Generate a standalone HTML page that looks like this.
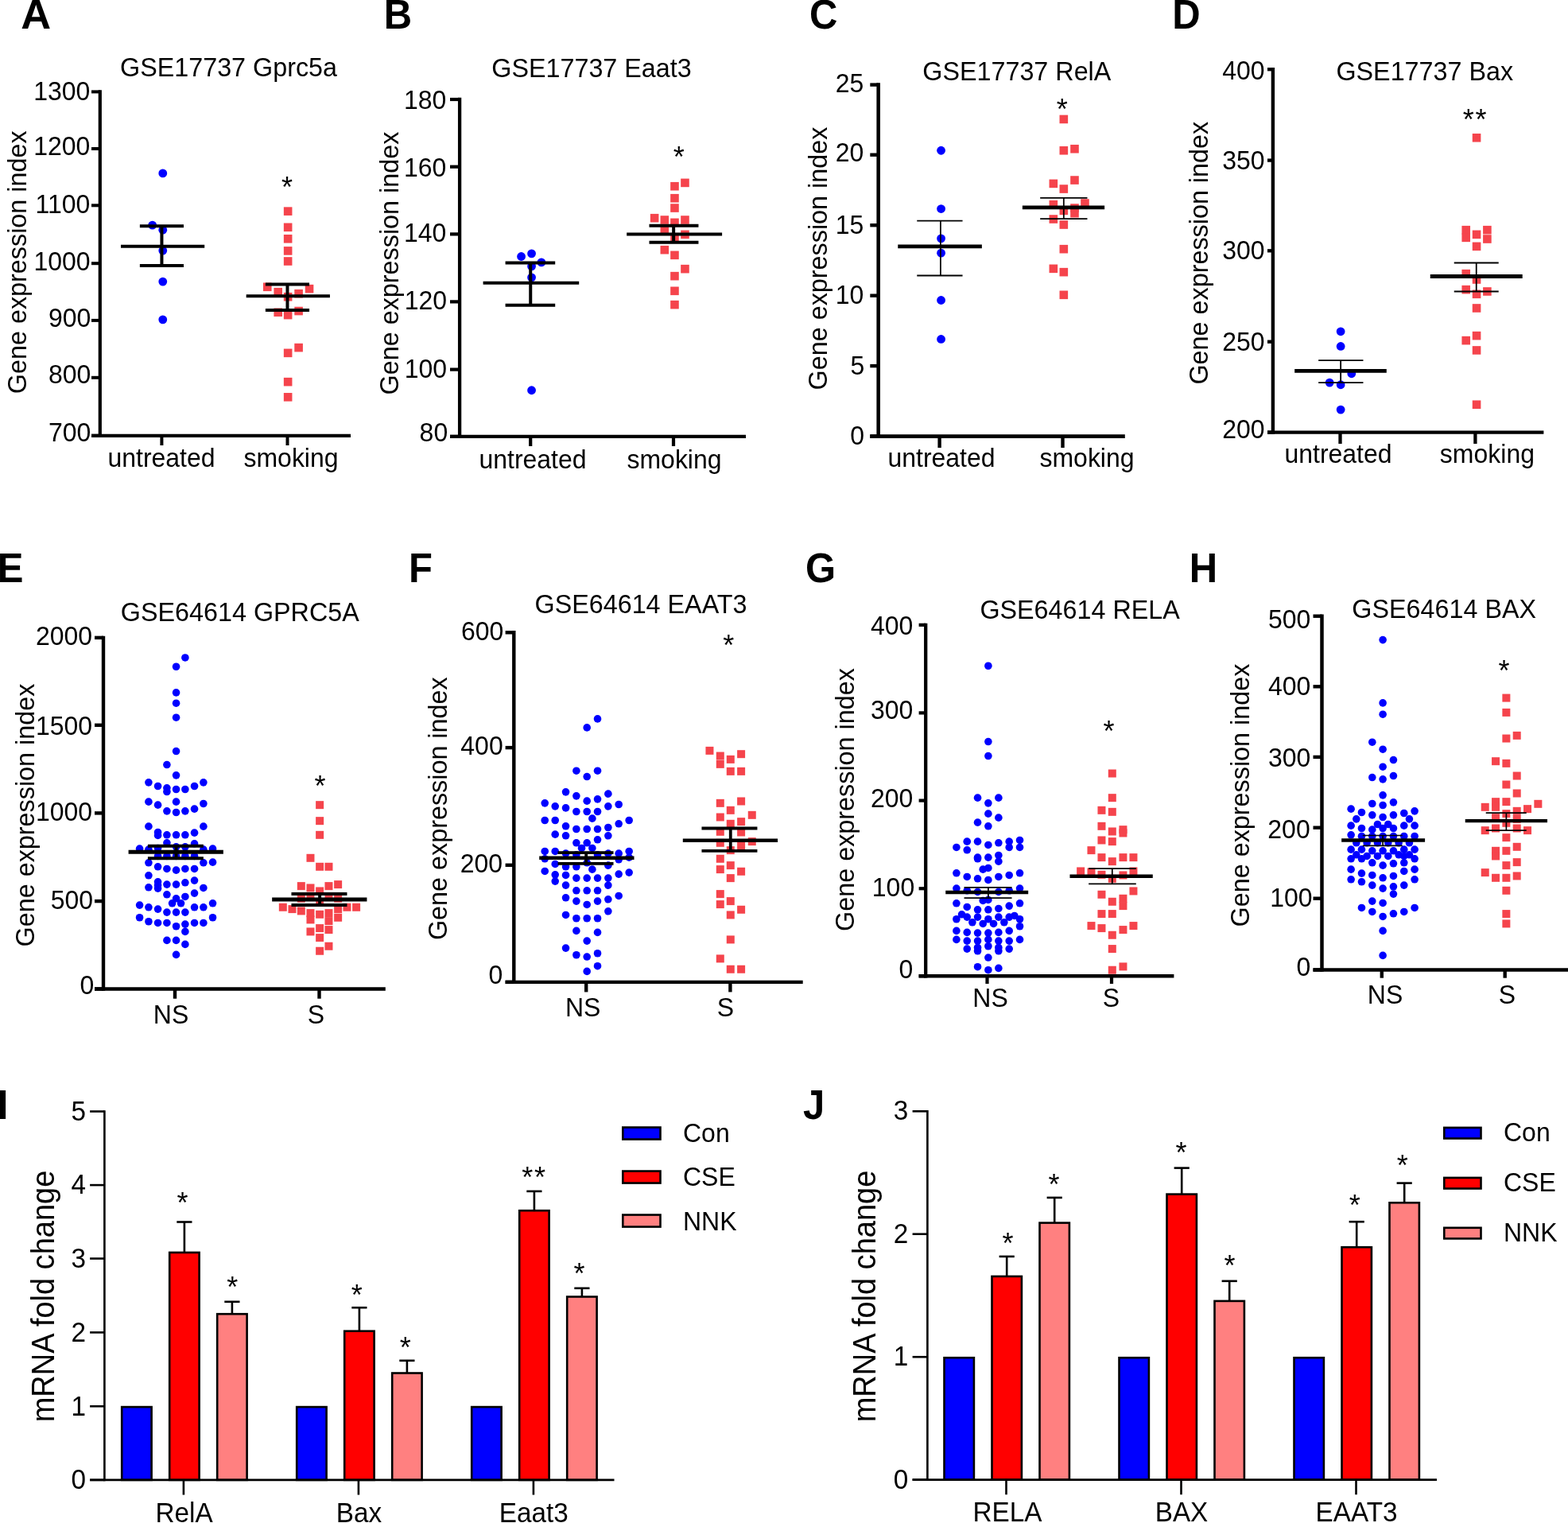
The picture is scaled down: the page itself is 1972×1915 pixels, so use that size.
<!DOCTYPE html>
<html lang="en"><head><meta charset="utf-8"><title>Gene expression figure</title>
<style>html,body{margin:0;padding:0;background:#fff}body{width:1972px;height:1915px;overflow:hidden}svg{display:block}text{font-family:"Liberation Sans",Arial,Helvetica,sans-serif;fill:#000}</style>
</head><body>
<svg xmlns="http://www.w3.org/2000/svg" width="1972" height="1915" viewBox="0 0 1972 1915">
<rect width="1972" height="1915" fill="#fff"/>
<g>
<text transform="translate(26.3 36.2) scale(1.07 1.05)" font-size="49" font-weight="700">A</text>
<text transform="translate(287.5 96.25) scale(1.01 1.055)" font-size="32" text-anchor="middle">GSE17737 Gprc5a</text>
<text transform="translate(33.1 329.8) rotate(-90) scale(1.011 1.055)" font-size="32" text-anchor="middle">Gene expression index</text>
<g fill="#0000ff">
<circle cx="204.77" cy="217.89" r="5.4"/>
<circle cx="191.66" cy="283.12" r="5.4"/>
<circle cx="204.77" cy="289.17" r="5.4"/>
<circle cx="204.77" cy="315.06" r="5.4"/>
<circle cx="204.77" cy="354.07" r="5.4"/>
<circle cx="204.77" cy="401.82" r="5.4"/>
</g>
<g fill="#f5444c">
<rect x="356.84" y="260.34" width="10.6" height="10.6"/>
<rect x="356.84" y="280.51" width="10.6" height="10.6"/>
<rect x="356.84" y="294.97" width="10.6" height="10.6"/>
<rect x="356.84" y="310.1" width="10.6" height="10.6"/>
<rect x="356.84" y="323.21" width="10.6" height="10.6"/>
<rect x="330.95" y="355.49" width="10.6" height="10.6"/>
<rect x="383.74" y="357.85" width="10.6" height="10.6"/>
<rect x="344.4" y="361.88" width="10.6" height="10.6"/>
<rect x="370.29" y="363.9" width="10.6" height="10.6"/>
<rect x="356.84" y="367.93" width="10.6" height="10.6"/>
<rect x="344.4" y="387.44" width="10.6" height="10.6"/>
<rect x="370.29" y="385.76" width="10.6" height="10.6"/>
<rect x="356.84" y="390.8" width="10.6" height="10.6"/>
<rect x="370.29" y="431.82" width="10.6" height="10.6"/>
<rect x="356.84" y="438.55" width="10.6" height="10.6"/>
<rect x="356.84" y="474.86" width="10.6" height="10.6"/>
<rect x="356.84" y="494.03" width="10.6" height="10.6"/>
</g>
<g stroke="#000" fill="none">
<line x1="151.98" y1="309.68" x2="257.23" y2="309.68" stroke-width="4"/>
<line x1="175.86" y1="284.13" x2="231" y2="284.13" stroke-width="4"/>
<line x1="175.86" y1="333.89" x2="231" y2="333.89" stroke-width="4"/>
<line x1="203.43" y1="284.13" x2="203.43" y2="333.89" stroke-width="4"/>
<line x1="309.68" y1="372.23" x2="414.93" y2="372.23" stroke-width="4"/>
<line x1="333.89" y1="357.43" x2="389.04" y2="357.43" stroke-width="4"/>
<line x1="333.89" y1="390.05" x2="389.04" y2="390.05" stroke-width="4"/>
<line x1="361.47" y1="357.43" x2="361.47" y2="390.05" stroke-width="4"/>
<line x1="125.8" y1="113.3" x2="125.8" y2="549.9" stroke-width="4.2"/>
<line x1="115" y1="547.8" x2="441" y2="547.8" stroke-width="4.2"/>
<line x1="115" y1="115.4" x2="125.8" y2="115.4" stroke-width="4"/>
<line x1="115" y1="187" x2="125.8" y2="187" stroke-width="4"/>
<line x1="115" y1="258.3" x2="125.8" y2="258.3" stroke-width="4"/>
<line x1="115" y1="331.2" x2="125.8" y2="331.2" stroke-width="4"/>
<line x1="115" y1="402.9" x2="125.8" y2="402.9" stroke-width="4"/>
<line x1="115" y1="474.8" x2="125.8" y2="474.8" stroke-width="4"/>
<line x1="115" y1="547.8" x2="125.8" y2="547.8" stroke-width="4"/>
<line x1="203.4" y1="547.8" x2="203.4" y2="560" stroke-width="4"/>
<line x1="361.5" y1="547.8" x2="361.5" y2="560" stroke-width="4"/>
</g>
<text transform="translate(113.3 126) scale(1 1.055)" font-size="32" text-anchor="end">1300</text>
<text transform="translate(113.3 195.2) scale(1 1.055)" font-size="32" text-anchor="end">1200</text>
<text transform="translate(113.3 267.8) scale(1 1.055)" font-size="32" text-anchor="end">1100</text>
<text transform="translate(113.6 340.3) scale(1 1.055)" font-size="32" text-anchor="end">1000</text>
<text transform="translate(114.3 411.1) scale(1 1.055)" font-size="32" text-anchor="end">900</text>
<text transform="translate(114.3 482.2) scale(1 1.055)" font-size="32" text-anchor="end">800</text>
<text transform="translate(114.3 554.9) scale(1 1.055)" font-size="32" text-anchor="end">700</text>
<text transform="translate(203 587) scale(1 1.055)" font-size="32" text-anchor="middle">untreated</text>
<text transform="translate(366 587) scale(1 1.055)" font-size="32" text-anchor="middle">smoking</text>
<text transform="translate(361.1 247.5)" font-size="36" text-anchor="middle">*</text>
</g>
<g>
<text transform="translate(482.7 36.2) scale(1 1.05)" font-size="49" font-weight="700">B</text>
<text transform="translate(744 97.2) scale(1.01 1.055)" font-size="32" text-anchor="middle">GSE17737 Eaat3</text>
<text transform="translate(500.5 331) rotate(-90) scale(1.011 1.055)" font-size="32" text-anchor="middle">Gene expression index</text>
<g fill="#0000ff">
<circle cx="655.57" cy="322.51" r="5.4"/>
<circle cx="668.56" cy="318.84" r="5.4"/>
<circle cx="680.89" cy="329.84" r="5.4"/>
<circle cx="668.56" cy="334.83" r="5.4"/>
<circle cx="668.56" cy="348.83" r="5.4"/>
<circle cx="668.56" cy="490.75" r="5.4"/>
</g>
<g fill="#f5444c">
<rect x="856.17" y="224.59" width="10.6" height="10.6"/>
<rect x="843.17" y="228.92" width="10.6" height="10.6"/>
<rect x="843.17" y="243.91" width="10.6" height="10.6"/>
<rect x="843.17" y="256.24" width="10.6" height="10.6"/>
<rect x="817.85" y="268.9" width="10.6" height="10.6"/>
<rect x="830.51" y="271.23" width="10.6" height="10.6"/>
<rect x="856.17" y="271.23" width="10.6" height="10.6"/>
<rect x="843.17" y="274.56" width="10.6" height="10.6"/>
<rect x="830.51" y="284.56" width="10.6" height="10.6"/>
<rect x="856.17" y="289.55" width="10.6" height="10.6"/>
<rect x="843.17" y="292.88" width="10.6" height="10.6"/>
<rect x="830.51" y="308.88" width="10.6" height="10.6"/>
<rect x="843.17" y="315.54" width="10.6" height="10.6"/>
<rect x="856.17" y="332.86" width="10.6" height="10.6"/>
<rect x="843.17" y="341.86" width="10.6" height="10.6"/>
<rect x="843.17" y="360.52" width="10.6" height="10.6"/>
<rect x="843.17" y="377.84" width="10.6" height="10.6"/>
</g>
<g stroke="#000" fill="none">
<line x1="607.59" y1="355.82" x2="728.2" y2="355.82" stroke-width="4"/>
<line x1="635.58" y1="330.5" x2="698.21" y2="330.5" stroke-width="4"/>
<line x1="635.58" y1="383.81" x2="698.21" y2="383.81" stroke-width="4"/>
<line x1="667.23" y1="330.5" x2="667.23" y2="383.81" stroke-width="4"/>
<line x1="788.17" y1="294.52" x2="908.11" y2="294.52" stroke-width="4"/>
<line x1="816.49" y1="283.86" x2="878.46" y2="283.86" stroke-width="4"/>
<line x1="816.49" y1="304.85" x2="878.46" y2="304.85" stroke-width="4"/>
<line x1="847.14" y1="283.86" x2="847.14" y2="304.85" stroke-width="4"/>
<line x1="578.1" y1="122.85" x2="578.1" y2="551.05" stroke-width="4.3"/>
<line x1="566" y1="548.9" x2="938" y2="548.9" stroke-width="4.3"/>
<line x1="566" y1="125" x2="578.1" y2="125" stroke-width="4.2"/>
<line x1="566" y1="209.7" x2="578.1" y2="209.7" stroke-width="4.2"/>
<line x1="566" y1="294.4" x2="578.1" y2="294.4" stroke-width="4.2"/>
<line x1="566" y1="379.4" x2="578.1" y2="379.4" stroke-width="4.2"/>
<line x1="566" y1="464.6" x2="578.1" y2="464.6" stroke-width="4.2"/>
<line x1="566" y1="548.9" x2="578.1" y2="548.9" stroke-width="4.2"/>
<line x1="667.2" y1="548.9" x2="667.2" y2="561" stroke-width="4.2"/>
<line x1="847" y1="548.9" x2="847" y2="561" stroke-width="4.2"/>
</g>
<text transform="translate(561.4 136.9) scale(1 1.055)" font-size="32" text-anchor="end">180</text>
<text transform="translate(561.4 222.05) scale(1 1.055)" font-size="32" text-anchor="end">160</text>
<text transform="translate(561.4 304.2) scale(1 1.055)" font-size="32" text-anchor="end">140</text>
<text transform="translate(562.05 388.8) scale(1 1.055)" font-size="32" text-anchor="end">120</text>
<text transform="translate(562.05 475.05) scale(1 1.055)" font-size="32" text-anchor="end">100</text>
<text transform="translate(563.2 555.4) scale(1 1.055)" font-size="32" text-anchor="end">80</text>
<text transform="translate(670 589) scale(1 1.055)" font-size="32" text-anchor="middle">untreated</text>
<text transform="translate(848 589) scale(1 1.055)" font-size="32" text-anchor="middle">smoking</text>
<text transform="translate(853.75 209.5)" font-size="36" text-anchor="middle">*</text>
</g>
<g>
<text transform="translate(1018 36.2) scale(1 1.05)" font-size="49" font-weight="700">C</text>
<text transform="translate(1278.8 101) scale(1.01 1.055)" font-size="32" text-anchor="middle">GSE17737 RelA</text>
<text transform="translate(1040 325) rotate(-90) scale(1.011 1.055)" font-size="32" text-anchor="middle">Gene expression index</text>
<g fill="#0000ff">
<circle cx="1183.56" cy="189.24" r="5.4"/>
<circle cx="1183.56" cy="262.54" r="5.4"/>
<circle cx="1183.56" cy="299.85" r="5.4"/>
<circle cx="1183.56" cy="318.17" r="5.4"/>
<circle cx="1183.56" cy="377.48" r="5.4"/>
<circle cx="1183.56" cy="426.45" r="5.4"/>
</g>
<g fill="#f5444c">
<rect x="1332.52" y="144.63" width="10.6" height="10.6"/>
<rect x="1332.52" y="183.94" width="10.6" height="10.6"/>
<rect x="1346.18" y="181.94" width="10.6" height="10.6"/>
<rect x="1346.18" y="221.25" width="10.6" height="10.6"/>
<rect x="1319.53" y="225.58" width="10.6" height="10.6"/>
<rect x="1332.52" y="232.25" width="10.6" height="10.6"/>
<rect x="1359.17" y="250.24" width="10.6" height="10.6"/>
<rect x="1319.53" y="251.9" width="10.6" height="10.6"/>
<rect x="1346.18" y="256.24" width="10.6" height="10.6"/>
<rect x="1332.52" y="259.57" width="10.6" height="10.6"/>
<rect x="1346.18" y="262.9" width="10.6" height="10.6"/>
<rect x="1319.53" y="270.23" width="10.6" height="10.6"/>
<rect x="1332.52" y="277.23" width="10.6" height="10.6"/>
<rect x="1332.52" y="307.88" width="10.6" height="10.6"/>
<rect x="1319.53" y="332.53" width="10.6" height="10.6"/>
<rect x="1332.52" y="336.86" width="10.6" height="10.6"/>
<rect x="1332.52" y="365.51" width="10.6" height="10.6"/>
</g>
<g stroke="#000" fill="none">
<line x1="1129.26" y1="309.85" x2="1234.87" y2="309.85" stroke-width="4.8"/>
<line x1="1153.25" y1="277.53" x2="1210.55" y2="277.53" stroke-width="1.8"/>
<line x1="1153.25" y1="346.49" x2="1210.55" y2="346.49" stroke-width="1.8"/>
<line x1="1182.9" y1="277.53" x2="1182.9" y2="346.49" stroke-width="1.8"/>
<line x1="1285.85" y1="260.87" x2="1389.13" y2="260.87" stroke-width="4.8"/>
<line x1="1308.17" y1="248.88" x2="1367.47" y2="248.88" stroke-width="1.8"/>
<line x1="1308.17" y1="275.2" x2="1367.47" y2="275.2" stroke-width="1.8"/>
<line x1="1337.82" y1="248.88" x2="1337.82" y2="275.2" stroke-width="1.8"/>
<line x1="1104.7" y1="104.3" x2="1104.7" y2="550.9" stroke-width="4.6"/>
<line x1="1094.3" y1="548.6" x2="1414.8" y2="548.6" stroke-width="4.6"/>
<line x1="1094.3" y1="106.6" x2="1104.7" y2="106.6" stroke-width="4.4"/>
<line x1="1094.3" y1="194.7" x2="1104.7" y2="194.7" stroke-width="4.4"/>
<line x1="1094.3" y1="283.2" x2="1104.7" y2="283.2" stroke-width="4.4"/>
<line x1="1094.3" y1="371.7" x2="1104.7" y2="371.7" stroke-width="4.4"/>
<line x1="1094.3" y1="460.1" x2="1104.7" y2="460.1" stroke-width="4.4"/>
<line x1="1094.3" y1="548.6" x2="1104.7" y2="548.6" stroke-width="4.4"/>
<line x1="1181.6" y1="548.6" x2="1181.6" y2="563" stroke-width="4.4"/>
<line x1="1336.5" y1="548.6" x2="1336.5" y2="563" stroke-width="4.4"/>
</g>
<text transform="translate(1086.4 116.05) scale(1 1.055)" font-size="32" text-anchor="end">25</text>
<text transform="translate(1086.4 202.9) scale(1 1.055)" font-size="32" text-anchor="end">20</text>
<text transform="translate(1086.4 293.8) scale(1 1.055)" font-size="32" text-anchor="end">15</text>
<text transform="translate(1086.4 382.05) scale(1 1.055)" font-size="32" text-anchor="end">10</text>
<text transform="translate(1087.3 471.05) scale(1 1.055)" font-size="32" text-anchor="end">5</text>
<text transform="translate(1087.05 559.2) scale(1 1.055)" font-size="32" text-anchor="end">0</text>
<text transform="translate(1184 587.4) scale(1 1.055)" font-size="32" text-anchor="middle">untreated</text>
<text transform="translate(1367 587.4) scale(1 1.055)" font-size="32" text-anchor="middle">smoking</text>
<text transform="translate(1335.75 149.7)" font-size="36" text-anchor="middle">*</text>
</g>
<g>
<text transform="translate(1474.3 36.2) scale(1 1.05)" font-size="49" font-weight="700">D</text>
<text transform="translate(1791.75 101) scale(1.01 1.055)" font-size="32" text-anchor="middle">GSE17737 Bax</text>
<text transform="translate(1519.2 318.2) rotate(-90) scale(1.011 1.055)" font-size="32" text-anchor="middle">Gene expression index</text>
<g fill="#0000ff">
<circle cx="1686.15" cy="416.79" r="5.4"/>
<circle cx="1686.15" cy="435.45" r="5.4"/>
<circle cx="1699.81" cy="469.77" r="5.4"/>
<circle cx="1672.16" cy="481.09" r="5.4"/>
<circle cx="1686.15" cy="483.76" r="5.4"/>
<circle cx="1686.15" cy="515.08" r="5.4"/>
</g>
<g fill="#f5444c">
<rect x="1851.76" y="167.95" width="10.6" height="10.6"/>
<rect x="1838.44" y="283.89" width="10.6" height="10.6"/>
<rect x="1865.09" y="283.89" width="10.6" height="10.6"/>
<rect x="1851.76" y="289.55" width="10.6" height="10.6"/>
<rect x="1838.44" y="293.55" width="10.6" height="10.6"/>
<rect x="1865.09" y="295.22" width="10.6" height="10.6"/>
<rect x="1851.76" y="304.55" width="10.6" height="10.6"/>
<rect x="1838.44" y="338.86" width="10.6" height="10.6"/>
<rect x="1851.76" y="346.19" width="10.6" height="10.6"/>
<rect x="1838.44" y="358.85" width="10.6" height="10.6"/>
<rect x="1865.09" y="361.18" width="10.6" height="10.6"/>
<rect x="1851.76" y="364.52" width="10.6" height="10.6"/>
<rect x="1851.76" y="382.17" width="10.6" height="10.6"/>
<rect x="1851.76" y="416.82" width="10.6" height="10.6"/>
<rect x="1838.44" y="422.82" width="10.6" height="10.6"/>
<rect x="1851.76" y="435.15" width="10.6" height="10.6"/>
<rect x="1851.76" y="503.45" width="10.6" height="10.6"/>
</g>
<g stroke="#000" fill="none">
<line x1="1628.18" y1="466.43" x2="1743.79" y2="466.43" stroke-width="4.8"/>
<line x1="1658.16" y1="453.11" x2="1714.47" y2="453.11" stroke-width="1.8"/>
<line x1="1658.16" y1="481.09" x2="1714.47" y2="481.09" stroke-width="1.8"/>
<line x1="1686.15" y1="453.11" x2="1686.15" y2="481.09" stroke-width="1.8"/>
<line x1="1798.76" y1="347.49" x2="1914.7" y2="347.49" stroke-width="4.8"/>
<line x1="1828.75" y1="330.5" x2="1884.72" y2="330.5" stroke-width="1.8"/>
<line x1="1828.75" y1="366.48" x2="1884.72" y2="366.48" stroke-width="1.8"/>
<line x1="1856.73" y1="330.5" x2="1856.73" y2="366.48" stroke-width="1.8"/>
<line x1="1600.9" y1="85" x2="1600.9" y2="545.8" stroke-width="4.4"/>
<line x1="1594" y1="543.6" x2="1941.4" y2="543.6" stroke-width="4.4"/>
<line x1="1594" y1="87.2" x2="1600.9" y2="87.2" stroke-width="4.3"/>
<line x1="1594" y1="201.6" x2="1600.9" y2="201.6" stroke-width="4.3"/>
<line x1="1594" y1="315.3" x2="1600.9" y2="315.3" stroke-width="4.3"/>
<line x1="1594" y1="429.7" x2="1600.9" y2="429.7" stroke-width="4.3"/>
<line x1="1594" y1="543.6" x2="1600.9" y2="543.6" stroke-width="4.3"/>
<line x1="1685.5" y1="543.6" x2="1685.5" y2="558" stroke-width="4.3"/>
<line x1="1855.4" y1="543.6" x2="1855.4" y2="558" stroke-width="4.3"/>
</g>
<text transform="translate(1590.55 99.8) scale(1 1.055)" font-size="32" text-anchor="end">400</text>
<text transform="translate(1590.55 212.9) scale(1 1.055)" font-size="32" text-anchor="end">350</text>
<text transform="translate(1590.55 326.4) scale(1 1.055)" font-size="32" text-anchor="end">300</text>
<text transform="translate(1590.55 441.05) scale(1 1.055)" font-size="32" text-anchor="end">250</text>
<text transform="translate(1590.55 551.05) scale(1 1.055)" font-size="32" text-anchor="end">200</text>
<text transform="translate(1683 582.4) scale(1 1.055)" font-size="32" text-anchor="middle">untreated</text>
<text transform="translate(1870.4 582.4) scale(1 1.055)" font-size="32" text-anchor="middle">smoking</text>
<text transform="translate(1855.5 162.8)" font-size="36" text-anchor="middle" letter-spacing="1.8">**</text>
</g>
<g>
<text transform="translate(-3.2 732) scale(1 1.05)" font-size="49" font-weight="700">E</text>
<text transform="translate(301.8 781) scale(1.01 1.055)" font-size="32" text-anchor="middle">GSE64614 GPRC5A</text>
<text transform="translate(43.4 1025) rotate(-90) scale(1.011 1.055)" font-size="32" text-anchor="middle">Gene expression index</text>
<g fill="#0000ff">
<circle cx="232.88" cy="826.93" r="4.8"/>
<circle cx="221.56" cy="838.25" r="4.8"/>
<circle cx="221.56" cy="870.9" r="4.8"/>
<circle cx="221.56" cy="884.23" r="4.8"/>
<circle cx="221.56" cy="902.22" r="4.8"/>
<circle cx="221.56" cy="944.53" r="4.8"/>
<circle cx="209.9" cy="961.53" r="4.8"/>
<circle cx="221.56" cy="974.85" r="4.8"/>
<circle cx="186.91" cy="983.85" r="4.8"/>
<circle cx="255.87" cy="983.85" r="4.8"/>
<circle cx="198.57" cy="988.51" r="4.8"/>
<circle cx="244.54" cy="988.51" r="4.8"/>
<circle cx="209.9" cy="990.84" r="4.8"/>
<circle cx="209.9" cy="995.51" r="4.8"/>
<circle cx="221.56" cy="992.51" r="4.8"/>
<circle cx="232.88" cy="992.51" r="4.8"/>
<circle cx="186.91" cy="1008.17" r="4.8"/>
<circle cx="221.56" cy="1008.17" r="4.8"/>
<circle cx="255.87" cy="1010.5" r="4.8"/>
<circle cx="198.57" cy="1012.17" r="4.8"/>
<circle cx="244.54" cy="1017.16" r="4.8"/>
<circle cx="209.9" cy="1019.83" r="4.8"/>
<circle cx="232.88" cy="1019.83" r="4.8"/>
<circle cx="221.56" cy="1021.5" r="4.8"/>
<circle cx="186.91" cy="1039.15" r="4.8"/>
<circle cx="255.87" cy="1039.15" r="4.8"/>
<circle cx="198.57" cy="1046.48" r="4.8"/>
<circle cx="244.54" cy="1047.15" r="4.8"/>
<circle cx="198.57" cy="1050.48" r="4.8"/>
<circle cx="209.9" cy="1049.82" r="4.8"/>
<circle cx="221.56" cy="1049.82" r="4.8"/>
<circle cx="232.88" cy="1049.82" r="4.8"/>
<circle cx="209.9" cy="1059.81" r="4.8"/>
<circle cx="244.54" cy="1060.81" r="4.8"/>
<circle cx="175.58" cy="1067.14" r="4.8"/>
<circle cx="267.53" cy="1067.14" r="4.8"/>
<circle cx="186.91" cy="1068.14" r="4.8"/>
<circle cx="198.57" cy="1066.47" r="4.8"/>
<circle cx="221.56" cy="1064.81" r="4.8"/>
<circle cx="232.88" cy="1064.81" r="4.8"/>
<circle cx="255.87" cy="1068.14" r="4.8"/>
<circle cx="198.57" cy="1076.47" r="4.8"/>
<circle cx="209.9" cy="1076.47" r="4.8"/>
<circle cx="232.88" cy="1076.47" r="4.8"/>
<circle cx="244.54" cy="1076.47" r="4.8"/>
<circle cx="221.56" cy="1076.47" r="4.8"/>
<circle cx="186.91" cy="1084.8" r="4.8"/>
<circle cx="255.87" cy="1084.8" r="4.8"/>
<circle cx="267.53" cy="1084.13" r="4.8"/>
<circle cx="198.57" cy="1089.8" r="4.8"/>
<circle cx="209.9" cy="1092.46" r="4.8"/>
<circle cx="221.56" cy="1094.13" r="4.8"/>
<circle cx="232.88" cy="1092.46" r="4.8"/>
<circle cx="244.54" cy="1092.46" r="4.8"/>
<circle cx="186.91" cy="1100.79" r="4.8"/>
<circle cx="198.57" cy="1108.79" r="4.8"/>
<circle cx="244.54" cy="1107.12" r="4.8"/>
<circle cx="232.88" cy="1109.79" r="4.8"/>
<circle cx="209.9" cy="1112.12" r="4.8"/>
<circle cx="221.56" cy="1112.12" r="4.8"/>
<circle cx="198.57" cy="1113.12" r="4.8"/>
<circle cx="186.91" cy="1115.78" r="4.8"/>
<circle cx="255.87" cy="1116.45" r="4.8"/>
<circle cx="198.57" cy="1117.11" r="4.8"/>
<circle cx="209.9" cy="1124.78" r="4.8"/>
<circle cx="244.54" cy="1123.11" r="4.8"/>
<circle cx="232.88" cy="1127.44" r="4.8"/>
<circle cx="221.56" cy="1129.78" r="4.8"/>
<circle cx="216.56" cy="1135.77" r="4.8"/>
<circle cx="227.55" cy="1135.77" r="4.8"/>
<circle cx="175.58" cy="1138.1" r="4.8"/>
<circle cx="267.53" cy="1135.77" r="4.8"/>
<circle cx="186.91" cy="1140.77" r="4.8"/>
<circle cx="198.57" cy="1143.1" r="4.8"/>
<circle cx="244.54" cy="1140.77" r="4.8"/>
<circle cx="255.87" cy="1140.77" r="4.8"/>
<circle cx="209.9" cy="1147.1" r="4.8"/>
<circle cx="221.56" cy="1147.1" r="4.8"/>
<circle cx="232.88" cy="1147.1" r="4.8"/>
<circle cx="175.58" cy="1153.76" r="4.8"/>
<circle cx="267.53" cy="1153.76" r="4.8"/>
<circle cx="186.91" cy="1158.76" r="4.8"/>
<circle cx="198.57" cy="1160.43" r="4.8"/>
<circle cx="209.9" cy="1160.43" r="4.8"/>
<circle cx="244.54" cy="1160.43" r="4.8"/>
<circle cx="255.87" cy="1160.43" r="4.8"/>
<circle cx="232.88" cy="1162.09" r="4.8"/>
<circle cx="221.56" cy="1164.76" r="4.8"/>
<circle cx="232.88" cy="1171.42" r="4.8"/>
<circle cx="209.9" cy="1182.42" r="4.8"/>
<circle cx="221.56" cy="1182.42" r="4.8"/>
<circle cx="232.88" cy="1187.41" r="4.8"/>
<circle cx="221.56" cy="1200.41" r="4.8"/>
</g>
<g fill="#f5444c">
<rect x="397.13" y="1007.17" width="10" height="10"/>
<rect x="397.13" y="1027.16" width="10" height="10"/>
<rect x="397.13" y="1044.82" width="10" height="10"/>
<rect x="385.47" y="1073.8" width="10" height="10"/>
<rect x="397.13" y="1084.8" width="10" height="10"/>
<rect x="408.46" y="1084.8" width="10" height="10"/>
<rect x="420.12" y="1107.12" width="10" height="10"/>
<rect x="373.81" y="1109.12" width="10" height="10"/>
<rect x="408.46" y="1109.12" width="10" height="10"/>
<rect x="385.47" y="1111.45" width="10" height="10"/>
<rect x="397.13" y="1115.45" width="10" height="10"/>
<rect x="373.81" y="1124.78" width="10" height="10"/>
<rect x="420.12" y="1124.78" width="10" height="10"/>
<rect x="385.47" y="1123.11" width="10" height="10"/>
<rect x="408.46" y="1123.11" width="10" height="10"/>
<rect x="397.13" y="1129.77" width="10" height="10"/>
<rect x="350.82" y="1135.77" width="10" height="10"/>
<rect x="362.48" y="1138.1" width="10" height="10"/>
<rect x="431.45" y="1135.77" width="10" height="10"/>
<rect x="443.11" y="1135.77" width="10" height="10"/>
<rect x="373.81" y="1140.43" width="10" height="10"/>
<rect x="420.12" y="1138.1" width="10" height="10"/>
<rect x="385.47" y="1143.1" width="10" height="10"/>
<rect x="408.46" y="1143.1" width="10" height="10"/>
<rect x="397.13" y="1144.77" width="10" height="10"/>
<rect x="420.12" y="1148.76" width="10" height="10"/>
<rect x="385.47" y="1151.43" width="10" height="10"/>
<rect x="408.46" y="1153.09" width="10" height="10"/>
<rect x="397.13" y="1162.09" width="10" height="10"/>
<rect x="408.46" y="1164.09" width="10" height="10"/>
<rect x="385.47" y="1166.42" width="10" height="10"/>
<rect x="397.13" y="1174.08" width="10" height="10"/>
<rect x="408.46" y="1184.75" width="10" height="10"/>
<rect x="397.13" y="1190.74" width="10" height="10"/>
</g>
<g stroke="#000" fill="none">
<line x1="161.59" y1="1071.14" x2="280.86" y2="1071.14" stroke-width="5"/>
<line x1="185.91" y1="1063.81" x2="255.87" y2="1063.81" stroke-width="4"/>
<line x1="185.91" y1="1079.13" x2="255.87" y2="1079.13" stroke-width="4"/>
<line x1="221.56" y1="1063.81" x2="221.56" y2="1079.13" stroke-width="4"/>
<line x1="342.16" y1="1131.11" x2="461.44" y2="1131.11" stroke-width="5"/>
<line x1="366.48" y1="1124.11" x2="436.45" y2="1124.11" stroke-width="4"/>
<line x1="366.48" y1="1138.1" x2="436.45" y2="1138.1" stroke-width="4"/>
<line x1="402.13" y1="1124.11" x2="402.13" y2="1138.1" stroke-width="4"/>
<line x1="130" y1="799.65" x2="130" y2="1245.7" stroke-width="4.4"/>
<line x1="119" y1="1243.5" x2="484.8" y2="1243.5" stroke-width="4.4"/>
<line x1="119" y1="801.85" x2="130" y2="801.85" stroke-width="4.4"/>
<line x1="119" y1="911.8" x2="130" y2="911.8" stroke-width="4.4"/>
<line x1="119" y1="1022.4" x2="130" y2="1022.4" stroke-width="4.4"/>
<line x1="119" y1="1133.1" x2="130" y2="1133.1" stroke-width="4.4"/>
<line x1="119" y1="1243.5" x2="130" y2="1243.5" stroke-width="4.4"/>
<line x1="220" y1="1243.5" x2="220" y2="1255.7" stroke-width="4.4"/>
<line x1="401.5" y1="1243.5" x2="401.5" y2="1255.7" stroke-width="4.4"/>
</g>
<text transform="translate(116.1 811) scale(1 1.055)" font-size="32" text-anchor="end">2000</text>
<text transform="translate(116.1 924.2) scale(1 1.055)" font-size="32" text-anchor="end">1500</text>
<text transform="translate(116.1 1032.3) scale(1 1.055)" font-size="32" text-anchor="end">1000</text>
<text transform="translate(117.05 1142.9) scale(1 1.055)" font-size="32" text-anchor="end">500</text>
<text transform="translate(118.3 1250.4) scale(1 1.055)" font-size="32" text-anchor="end">0</text>
<text transform="translate(215 1286.9) scale(1 1.055)" font-size="32" text-anchor="middle">NS</text>
<text transform="translate(397.5 1286.9) scale(1 1.055)" font-size="32" text-anchor="middle">S</text>
<text transform="translate(402.6 1000.5)" font-size="36" text-anchor="middle">*</text>
</g>
<g>
<text transform="translate(514 732) scale(1 1.05)" font-size="49" font-weight="700">F</text>
<text transform="translate(806 771) scale(1.01 1.055)" font-size="32" text-anchor="middle">GSE64614 EAAT3</text>
<text transform="translate(562 1016.7) rotate(-90) scale(1.011 1.055)" font-size="32" text-anchor="middle">Gene expression index</text>
<g fill="#0000ff">
<circle cx="751.52" cy="903.89" r="4.8"/>
<circle cx="738.19" cy="914.88" r="4.8"/>
<circle cx="724.87" cy="969.19" r="4.8"/>
<circle cx="751.52" cy="969.19" r="4.8"/>
<circle cx="738.19" cy="976.52" r="4.8"/>
<circle cx="711.54" cy="995.84" r="4.8"/>
<circle cx="764.85" cy="998.17" r="4.8"/>
<circle cx="724.87" cy="1000.84" r="4.8"/>
<circle cx="751.52" cy="1004.84" r="4.8"/>
<circle cx="738.19" cy="1007.17" r="4.8"/>
<circle cx="685.22" cy="1009.84" r="4.8"/>
<circle cx="778.17" cy="1011.5" r="4.8"/>
<circle cx="698.21" cy="1013.83" r="4.8"/>
<circle cx="764.85" cy="1013.83" r="4.8"/>
<circle cx="711.54" cy="1015.83" r="4.8"/>
<circle cx="724.87" cy="1020.5" r="4.8"/>
<circle cx="751.52" cy="1020.5" r="4.8"/>
<circle cx="738.19" cy="1020.5" r="4.8"/>
<circle cx="744.86" cy="1029.16" r="4.8"/>
<circle cx="685.22" cy="1031.49" r="4.8"/>
<circle cx="698.21" cy="1031.49" r="4.8"/>
<circle cx="791.17" cy="1031.49" r="4.8"/>
<circle cx="778.17" cy="1035.82" r="4.8"/>
<circle cx="711.54" cy="1038.82" r="4.8"/>
<circle cx="764.85" cy="1040.49" r="4.8"/>
<circle cx="724.87" cy="1042.49" r="4.8"/>
<circle cx="738.19" cy="1042.49" r="4.8"/>
<circle cx="751.52" cy="1042.49" r="4.8"/>
<circle cx="698.21" cy="1049.15" r="4.8"/>
<circle cx="711.54" cy="1050.81" r="4.8"/>
<circle cx="764.85" cy="1050.81" r="4.8"/>
<circle cx="751.52" cy="1055.81" r="4.8"/>
<circle cx="724.87" cy="1059.81" r="4.8"/>
<circle cx="738.19" cy="1059.81" r="4.8"/>
<circle cx="744.86" cy="1066.47" r="4.8"/>
<circle cx="731.53" cy="1066.47" r="4.8"/>
<circle cx="685.22" cy="1070.47" r="4.8"/>
<circle cx="698.21" cy="1070.47" r="4.8"/>
<circle cx="791.17" cy="1070.47" r="4.8"/>
<circle cx="778.17" cy="1073.14" r="4.8"/>
<circle cx="711.54" cy="1073.14" r="4.8"/>
<circle cx="764.85" cy="1073.14" r="4.8"/>
<circle cx="724.87" cy="1074.8" r="4.8"/>
<circle cx="751.52" cy="1074.8" r="4.8"/>
<circle cx="685.22" cy="1079.8" r="4.8"/>
<circle cx="791.17" cy="1078.13" r="4.8"/>
<circle cx="698.21" cy="1086.46" r="4.8"/>
<circle cx="778.17" cy="1080.8" r="4.8"/>
<circle cx="711.54" cy="1089.8" r="4.8"/>
<circle cx="724.87" cy="1089.8" r="4.8"/>
<circle cx="744.86" cy="1093.13" r="4.8"/>
<circle cx="764.85" cy="1088.13" r="4.8"/>
<circle cx="738.19" cy="1084.8" r="4.8"/>
<circle cx="685.22" cy="1095.46" r="4.8"/>
<circle cx="791.17" cy="1097.12" r="4.8"/>
<circle cx="698.21" cy="1099.79" r="4.8"/>
<circle cx="778.17" cy="1099.12" r="4.8"/>
<circle cx="711.54" cy="1100.46" r="4.8"/>
<circle cx="724.87" cy="1104.12" r="4.8"/>
<circle cx="738.19" cy="1104.12" r="4.8"/>
<circle cx="751.52" cy="1104.12" r="4.8"/>
<circle cx="764.85" cy="1104.12" r="4.8"/>
<circle cx="698.21" cy="1108.12" r="4.8"/>
<circle cx="711.54" cy="1113.12" r="4.8"/>
<circle cx="764.85" cy="1113.12" r="4.8"/>
<circle cx="724.87" cy="1119.78" r="4.8"/>
<circle cx="738.19" cy="1119.78" r="4.8"/>
<circle cx="751.52" cy="1119.78" r="4.8"/>
<circle cx="711.54" cy="1128.78" r="4.8"/>
<circle cx="778.17" cy="1126.44" r="4.8"/>
<circle cx="764.85" cy="1130.77" r="4.8"/>
<circle cx="724.87" cy="1133.11" r="4.8"/>
<circle cx="751.52" cy="1133.11" r="4.8"/>
<circle cx="738.19" cy="1137.44" r="4.8"/>
<circle cx="764.85" cy="1145.77" r="4.8"/>
<circle cx="711.54" cy="1150.43" r="4.8"/>
<circle cx="724.87" cy="1154.76" r="4.8"/>
<circle cx="738.19" cy="1154.76" r="4.8"/>
<circle cx="751.52" cy="1154.76" r="4.8"/>
<circle cx="724.87" cy="1170.42" r="4.8"/>
<circle cx="751.52" cy="1172.42" r="4.8"/>
<circle cx="738.19" cy="1183.08" r="4.8"/>
<circle cx="711.54" cy="1192.08" r="4.8"/>
<circle cx="751.52" cy="1198.74" r="4.8"/>
<circle cx="724.87" cy="1200.74" r="4.8"/>
<circle cx="738.19" cy="1203.07" r="4.8"/>
<circle cx="751.52" cy="1214.73" r="4.8"/>
<circle cx="738.19" cy="1221.4" r="4.8"/>
</g>
<g fill="#f5444c">
<rect x="887.45" y="938.87" width="10" height="10"/>
<rect x="900.78" y="945.53" width="10" height="10"/>
<rect x="927.1" y="943.2" width="10" height="10"/>
<rect x="913.77" y="949.86" width="10" height="10"/>
<rect x="900.78" y="955.86" width="10" height="10"/>
<rect x="913.77" y="964.86" width="10" height="10"/>
<rect x="927.1" y="964.86" width="10" height="10"/>
<rect x="927.1" y="1002.5" width="10" height="10"/>
<rect x="900.78" y="1004.84" width="10" height="10"/>
<rect x="913.77" y="1013.83" width="10" height="10"/>
<rect x="940.76" y="1019.83" width="10" height="10"/>
<rect x="900.78" y="1022.49" width="10" height="10"/>
<rect x="927.1" y="1028.16" width="10" height="10"/>
<rect x="913.77" y="1030.82" width="10" height="10"/>
<rect x="900.78" y="1040.82" width="10" height="10"/>
<rect x="927.1" y="1041.48" width="10" height="10"/>
<rect x="940.76" y="1053.14" width="10" height="10"/>
<rect x="900.78" y="1054.81" width="10" height="10"/>
<rect x="927.1" y="1058.14" width="10" height="10"/>
<rect x="913.77" y="1064.14" width="10" height="10"/>
<rect x="900.78" y="1074.8" width="10" height="10"/>
<rect x="913.77" y="1083.13" width="10" height="10"/>
<rect x="900.78" y="1088.13" width="10" height="10"/>
<rect x="927.1" y="1090.79" width="10" height="10"/>
<rect x="913.77" y="1099.12" width="10" height="10"/>
<rect x="900.78" y="1119.11" width="10" height="10"/>
<rect x="913.77" y="1128.11" width="10" height="10"/>
<rect x="900.78" y="1132.1" width="10" height="10"/>
<rect x="927.1" y="1138.77" width="10" height="10"/>
<rect x="913.77" y="1145.43" width="10" height="10"/>
<rect x="913.77" y="1176.42" width="10" height="10"/>
<rect x="900.78" y="1200.4" width="10" height="10"/>
<rect x="913.77" y="1213.73" width="10" height="10"/>
<rect x="927.1" y="1213.73" width="10" height="10"/>
</g>
<g stroke="#000" fill="none">
<line x1="678.22" y1="1078.8" x2="797.5" y2="1078.8" stroke-width="4.4"/>
<line x1="701.55" y1="1072.14" x2="771.51" y2="1072.14" stroke-width="3.8"/>
<line x1="701.55" y1="1085.8" x2="771.51" y2="1085.8" stroke-width="3.8"/>
<line x1="737.19" y1="1072.14" x2="737.19" y2="1085.8" stroke-width="3.8"/>
<line x1="858.8" y1="1056.81" x2="978.07" y2="1056.81" stroke-width="4.4"/>
<line x1="882.46" y1="1041.49" x2="952.42" y2="1041.49" stroke-width="3.8"/>
<line x1="882.46" y1="1069.81" x2="952.42" y2="1069.81" stroke-width="3.8"/>
<line x1="918.77" y1="1041.49" x2="918.77" y2="1069.81" stroke-width="3.8"/>
<line x1="646.3" y1="793.1" x2="646.3" y2="1237.1" stroke-width="4.4"/>
<line x1="635.6" y1="1234.9" x2="1009.7" y2="1234.9" stroke-width="4.4"/>
<line x1="635.6" y1="795.3" x2="646.3" y2="795.3" stroke-width="4.4"/>
<line x1="635.6" y1="940.1" x2="646.3" y2="940.1" stroke-width="4.4"/>
<line x1="635.6" y1="1087.8" x2="646.3" y2="1087.8" stroke-width="4.4"/>
<line x1="635.6" y1="1234.9" x2="646.3" y2="1234.9" stroke-width="4.4"/>
<line x1="737.2" y1="1234.9" x2="737.2" y2="1247.4" stroke-width="4.4"/>
<line x1="918.4" y1="1234.9" x2="918.4" y2="1247.4" stroke-width="4.4"/>
</g>
<text transform="translate(633.3 804.8) scale(1 1.055)" font-size="32" text-anchor="end">600</text>
<text transform="translate(632.7 948.9) scale(1 1.055)" font-size="32" text-anchor="end">400</text>
<text transform="translate(632.05 1097.05) scale(1 1.055)" font-size="32" text-anchor="end">200</text>
<text transform="translate(632.3 1237.3) scale(1 1.055)" font-size="32" text-anchor="end">0</text>
<text transform="translate(733.2 1278) scale(1 1.055)" font-size="32" text-anchor="middle">NS</text>
<text transform="translate(912.4 1278) scale(1 1.055)" font-size="32" text-anchor="middle">S</text>
<text transform="translate(916.3 824)" font-size="36" text-anchor="middle">*</text>
</g>
<g>
<text transform="translate(1013 732) scale(1 1.05)" font-size="49" font-weight="700">G</text>
<text transform="translate(1358.1 777.6) scale(1.01 1.055)" font-size="32" text-anchor="middle">GSE64614 RELA</text>
<text transform="translate(1074.4 1005.5) rotate(-90) scale(1.011 1.055)" font-size="32" text-anchor="middle">Gene expression index</text>
<g fill="#0000ff">
<circle cx="1242.87" cy="837.25" r="4.8"/>
<circle cx="1242.87" cy="932.54" r="4.8"/>
<circle cx="1242.87" cy="950.53" r="4.8"/>
<circle cx="1229.54" cy="1003.17" r="4.8"/>
<circle cx="1255.86" cy="1003.17" r="4.8"/>
<circle cx="1242.87" cy="1009.84" r="4.8"/>
<circle cx="1242.87" cy="1023.16" r="4.8"/>
<circle cx="1255.86" cy="1028.16" r="4.8"/>
<circle cx="1229.54" cy="1034.16" r="4.8"/>
<circle cx="1242.87" cy="1038.82" r="4.8"/>
<circle cx="1216.22" cy="1058.14" r="4.8"/>
<circle cx="1229.54" cy="1058.14" r="4.8"/>
<circle cx="1255.86" cy="1059.81" r="4.8"/>
<circle cx="1269.19" cy="1058.14" r="4.8"/>
<circle cx="1282.52" cy="1056.48" r="4.8"/>
<circle cx="1242.87" cy="1062.48" r="4.8"/>
<circle cx="1202.89" cy="1065.47" r="4.8"/>
<circle cx="1269.19" cy="1065.47" r="4.8"/>
<circle cx="1282.52" cy="1065.47" r="4.8"/>
<circle cx="1216.22" cy="1068.81" r="4.8"/>
<circle cx="1229.54" cy="1078.13" r="4.8"/>
<circle cx="1242.87" cy="1078.13" r="4.8"/>
<circle cx="1255.86" cy="1075.47" r="4.8"/>
<circle cx="1255.86" cy="1083.13" r="4.8"/>
<circle cx="1229.54" cy="1079.8" r="4.8"/>
<circle cx="1242.87" cy="1091.46" r="4.8"/>
<circle cx="1236.21" cy="1093.13" r="4.8"/>
<circle cx="1202.89" cy="1097.79" r="4.8"/>
<circle cx="1282.52" cy="1097.79" r="4.8"/>
<circle cx="1216.22" cy="1102.46" r="4.8"/>
<circle cx="1269.19" cy="1100.46" r="4.8"/>
<circle cx="1255.86" cy="1102.46" r="4.8"/>
<circle cx="1229.54" cy="1104.79" r="4.8"/>
<circle cx="1242.87" cy="1106.45" r="4.8"/>
<circle cx="1202.89" cy="1117.11" r="4.8"/>
<circle cx="1282.52" cy="1117.11" r="4.8"/>
<circle cx="1216.22" cy="1119.78" r="4.8"/>
<circle cx="1269.19" cy="1119.78" r="4.8"/>
<circle cx="1229.54" cy="1121.45" r="4.8"/>
<circle cx="1255.86" cy="1121.45" r="4.8"/>
<circle cx="1242.87" cy="1131.44" r="4.8"/>
<circle cx="1236.21" cy="1132.44" r="4.8"/>
<circle cx="1202.89" cy="1135.77" r="4.8"/>
<circle cx="1282.52" cy="1135.77" r="4.8"/>
<circle cx="1216.22" cy="1140.44" r="4.8"/>
<circle cx="1269.19" cy="1139.1" r="4.8"/>
<circle cx="1229.54" cy="1143.77" r="4.8"/>
<circle cx="1242.87" cy="1143.77" r="4.8"/>
<circle cx="1255.86" cy="1142.44" r="4.8"/>
<circle cx="1209.55" cy="1149.77" r="4.8"/>
<circle cx="1275.85" cy="1151.43" r="4.8"/>
<circle cx="1202.89" cy="1155.76" r="4.8"/>
<circle cx="1216.22" cy="1153.1" r="4.8"/>
<circle cx="1229.54" cy="1153.1" r="4.8"/>
<circle cx="1242.87" cy="1155.76" r="4.8"/>
<circle cx="1255.86" cy="1153.1" r="4.8"/>
<circle cx="1269.19" cy="1153.1" r="4.8"/>
<circle cx="1282.52" cy="1155.76" r="4.8"/>
<circle cx="1222.88" cy="1159.76" r="4.8"/>
<circle cx="1236.21" cy="1161.43" r="4.8"/>
<circle cx="1249.53" cy="1161.43" r="4.8"/>
<circle cx="1262.86" cy="1159.76" r="4.8"/>
<circle cx="1282.52" cy="1164.76" r="4.8"/>
<circle cx="1202.89" cy="1170.42" r="4.8"/>
<circle cx="1216.22" cy="1172.42" r="4.8"/>
<circle cx="1229.54" cy="1173.09" r="4.8"/>
<circle cx="1242.87" cy="1173.09" r="4.8"/>
<circle cx="1255.86" cy="1172.42" r="4.8"/>
<circle cx="1269.19" cy="1170.42" r="4.8"/>
<circle cx="1202.89" cy="1181.42" r="4.8"/>
<circle cx="1282.52" cy="1181.42" r="4.8"/>
<circle cx="1216.22" cy="1183.08" r="4.8"/>
<circle cx="1229.54" cy="1183.08" r="4.8"/>
<circle cx="1242.87" cy="1181.42" r="4.8"/>
<circle cx="1255.86" cy="1183.08" r="4.8"/>
<circle cx="1269.19" cy="1183.08" r="4.8"/>
<circle cx="1216.22" cy="1193.08" r="4.8"/>
<circle cx="1229.54" cy="1191.41" r="4.8"/>
<circle cx="1242.87" cy="1189.75" r="4.8"/>
<circle cx="1255.86" cy="1191.41" r="4.8"/>
<circle cx="1269.19" cy="1193.08" r="4.8"/>
<circle cx="1229.54" cy="1195.74" r="4.8"/>
<circle cx="1255.86" cy="1195.74" r="4.8"/>
<circle cx="1242.87" cy="1204.07" r="4.8"/>
<circle cx="1229.54" cy="1215.73" r="4.8"/>
<circle cx="1255.86" cy="1217.4" r="4.8"/>
<circle cx="1242.87" cy="1219.73" r="4.8"/>
</g>
<g fill="#f5444c">
<rect x="1393.79" y="967.52" width="10" height="10"/>
<rect x="1393.79" y="998.17" width="10" height="10"/>
<rect x="1380.46" y="1013.83" width="10" height="10"/>
<rect x="1393.79" y="1015.83" width="10" height="10"/>
<rect x="1380.46" y="1033.82" width="10" height="10"/>
<rect x="1407.45" y="1038.15" width="10" height="10"/>
<rect x="1393.79" y="1040.48" width="10" height="10"/>
<rect x="1407.45" y="1042.48" width="10" height="10"/>
<rect x="1380.46" y="1051.48" width="10" height="10"/>
<rect x="1393.79" y="1053.14" width="10" height="10"/>
<rect x="1367.47" y="1064.14" width="10" height="10"/>
<rect x="1380.46" y="1073.13" width="10" height="10"/>
<rect x="1407.45" y="1073.13" width="10" height="10"/>
<rect x="1420.44" y="1073.13" width="10" height="10"/>
<rect x="1393.79" y="1078.13" width="10" height="10"/>
<rect x="1354.14" y="1090.46" width="10" height="10"/>
<rect x="1367.47" y="1091.46" width="10" height="10"/>
<rect x="1420.44" y="1090.46" width="10" height="10"/>
<rect x="1380.46" y="1094.79" width="10" height="10"/>
<rect x="1407.45" y="1095.46" width="10" height="10"/>
<rect x="1393.79" y="1099.79" width="10" height="10"/>
<rect x="1420.44" y="1115.45" width="10" height="10"/>
<rect x="1380.46" y="1119.78" width="10" height="10"/>
<rect x="1407.45" y="1124.78" width="10" height="10"/>
<rect x="1393.79" y="1128.77" width="10" height="10"/>
<rect x="1407.45" y="1134.1" width="10" height="10"/>
<rect x="1380.46" y="1144.1" width="10" height="10"/>
<rect x="1393.79" y="1144.1" width="10" height="10"/>
<rect x="1367.47" y="1159.09" width="10" height="10"/>
<rect x="1420.44" y="1159.09" width="10" height="10"/>
<rect x="1380.46" y="1162.09" width="10" height="10"/>
<rect x="1407.45" y="1164.09" width="10" height="10"/>
<rect x="1393.79" y="1170.75" width="10" height="10"/>
<rect x="1393.79" y="1188.08" width="10" height="10"/>
<rect x="1407.45" y="1210.4" width="10" height="10"/>
<rect x="1393.79" y="1214.73" width="10" height="10"/>
</g>
<g stroke="#000" fill="none">
<line x1="1189.23" y1="1122.11" x2="1293.18" y2="1122.11" stroke-width="4.5"/>
<line x1="1212.55" y1="1115.78" x2="1272.52" y2="1115.78" stroke-width="1.8"/>
<line x1="1212.55" y1="1129.11" x2="1272.52" y2="1129.11" stroke-width="1.8"/>
<line x1="1242.87" y1="1115.78" x2="1242.87" y2="1129.11" stroke-width="1.8"/>
<line x1="1345.48" y1="1101.79" x2="1449.77" y2="1101.79" stroke-width="4.5"/>
<line x1="1369.14" y1="1092.13" x2="1428.78" y2="1092.13" stroke-width="1.8"/>
<line x1="1369.14" y1="1111.45" x2="1428.78" y2="1111.45" stroke-width="1.8"/>
<line x1="1398.79" y1="1092.13" x2="1398.79" y2="1111.45" stroke-width="1.8"/>
<line x1="1164.2" y1="783.65" x2="1164.2" y2="1229.4" stroke-width="4.3"/>
<line x1="1155.6" y1="1227.25" x2="1476.4" y2="1227.25" stroke-width="4.3"/>
<line x1="1155.6" y1="785.8" x2="1164.2" y2="785.8" stroke-width="4.2"/>
<line x1="1155.6" y1="896.4" x2="1164.2" y2="896.4" stroke-width="4.2"/>
<line x1="1155.6" y1="1006.6" x2="1164.2" y2="1006.6" stroke-width="4.2"/>
<line x1="1155.6" y1="1117.25" x2="1164.2" y2="1117.25" stroke-width="4.2"/>
<line x1="1155.6" y1="1227.25" x2="1164.2" y2="1227.25" stroke-width="4.2"/>
<line x1="1241.5" y1="1227.25" x2="1241.5" y2="1237" stroke-width="4.2"/>
<line x1="1398" y1="1227.25" x2="1398" y2="1237" stroke-width="4.2"/>
</g>
<text transform="translate(1148.3 797.9) scale(1 1.055)" font-size="32" text-anchor="end">400</text>
<text transform="translate(1148.3 904.2) scale(1 1.055)" font-size="32" text-anchor="end">300</text>
<text transform="translate(1148.3 1015.4) scale(1 1.055)" font-size="32" text-anchor="end">200</text>
<text transform="translate(1150.2 1127.05) scale(1 1.055)" font-size="32" text-anchor="end">100</text>
<text transform="translate(1148.3 1230.4) scale(1 1.055)" font-size="32" text-anchor="end">0</text>
<text transform="translate(1245.5 1265.6) scale(1 1.055)" font-size="32" text-anchor="middle">NS</text>
<text transform="translate(1397.5 1265.6) scale(1 1.055)" font-size="32" text-anchor="middle">S</text>
<text transform="translate(1394.6 932.2)" font-size="36" text-anchor="middle">*</text>
</g>
<g>
<text transform="translate(1495.8 732) scale(1 1.05)" font-size="49" font-weight="700">H</text>
<text transform="translate(1816.2 777) scale(1.01 1.055)" font-size="32" text-anchor="middle">GSE64614 BAX</text>
<text transform="translate(1571.2 1000) rotate(-90) scale(1.011 1.055)" font-size="32" text-anchor="middle">Gene expression index</text>
<g fill="#0000ff">
<circle cx="1739.12" cy="804.6" r="4.8"/>
<circle cx="1739.12" cy="883.9" r="4.8"/>
<circle cx="1739.12" cy="898.22" r="4.8"/>
<circle cx="1725.8" cy="933.21" r="4.8"/>
<circle cx="1739.12" cy="942.2" r="4.8"/>
<circle cx="1752.45" cy="955.53" r="4.8"/>
<circle cx="1739.12" cy="964.19" r="4.8"/>
<circle cx="1725.8" cy="977.52" r="4.8"/>
<circle cx="1752.45" cy="975.52" r="4.8"/>
<circle cx="1739.12" cy="979.85" r="4.8"/>
<circle cx="1739.12" cy="999.84" r="4.8"/>
<circle cx="1725.8" cy="1010.5" r="4.8"/>
<circle cx="1752.45" cy="1008.84" r="4.8"/>
<circle cx="1739.12" cy="1012.5" r="4.8"/>
<circle cx="1699.14" cy="1017.16" r="4.8"/>
<circle cx="1779.1" cy="1019.83" r="4.8"/>
<circle cx="1712.47" cy="1021.5" r="4.8"/>
<circle cx="1765.78" cy="1022.5" r="4.8"/>
<circle cx="1725.8" cy="1024.83" r="4.8"/>
<circle cx="1752.45" cy="1024.83" r="4.8"/>
<circle cx="1739.12" cy="1027.49" r="4.8"/>
<circle cx="1705.81" cy="1029.83" r="4.8"/>
<circle cx="1772.44" cy="1029.83" r="4.8"/>
<circle cx="1699.14" cy="1038.15" r="4.8"/>
<circle cx="1779.1" cy="1038.15" r="4.8"/>
<circle cx="1712.47" cy="1041.49" r="4.8"/>
<circle cx="1765.78" cy="1038.15" r="4.8"/>
<circle cx="1725.8" cy="1043.15" r="4.8"/>
<circle cx="1752.45" cy="1041.49" r="4.8"/>
<circle cx="1739.12" cy="1041.49" r="4.8"/>
<circle cx="1732.46" cy="1036.49" r="4.8"/>
<circle cx="1745.79" cy="1036.49" r="4.8"/>
<circle cx="1699.14" cy="1049.82" r="4.8"/>
<circle cx="1779.1" cy="1051.48" r="4.8"/>
<circle cx="1712.47" cy="1051.48" r="4.8"/>
<circle cx="1725.8" cy="1051.48" r="4.8"/>
<circle cx="1739.12" cy="1051.48" r="4.8"/>
<circle cx="1752.45" cy="1051.48" r="4.8"/>
<circle cx="1765.78" cy="1051.48" r="4.8"/>
<circle cx="1705.81" cy="1059.81" r="4.8"/>
<circle cx="1719.13" cy="1059.81" r="4.8"/>
<circle cx="1732.46" cy="1059.81" r="4.8"/>
<circle cx="1745.79" cy="1059.81" r="4.8"/>
<circle cx="1759.11" cy="1059.81" r="4.8"/>
<circle cx="1772.44" cy="1059.81" r="4.8"/>
<circle cx="1699.14" cy="1068.14" r="4.8"/>
<circle cx="1779.1" cy="1068.14" r="4.8"/>
<circle cx="1712.47" cy="1068.14" r="4.8"/>
<circle cx="1725.8" cy="1069.81" r="4.8"/>
<circle cx="1739.12" cy="1069.81" r="4.8"/>
<circle cx="1752.45" cy="1069.81" r="4.8"/>
<circle cx="1765.78" cy="1068.14" r="4.8"/>
<circle cx="1705.81" cy="1074.8" r="4.8"/>
<circle cx="1719.13" cy="1076.47" r="4.8"/>
<circle cx="1732.46" cy="1076.47" r="4.8"/>
<circle cx="1745.79" cy="1076.47" r="4.8"/>
<circle cx="1759.11" cy="1074.8" r="4.8"/>
<circle cx="1772.44" cy="1074.8" r="4.8"/>
<circle cx="1699.14" cy="1079.8" r="4.8"/>
<circle cx="1779.1" cy="1079.8" r="4.8"/>
<circle cx="1712.47" cy="1079.8" r="4.8"/>
<circle cx="1765.78" cy="1076.47" r="4.8"/>
<circle cx="1725.8" cy="1084.8" r="4.8"/>
<circle cx="1752.45" cy="1085.8" r="4.8"/>
<circle cx="1739.12" cy="1088.13" r="4.8"/>
<circle cx="1765.78" cy="1084.8" r="4.8"/>
<circle cx="1699.14" cy="1093.13" r="4.8"/>
<circle cx="1779.1" cy="1093.13" r="4.8"/>
<circle cx="1765.78" cy="1095.46" r="4.8"/>
<circle cx="1712.47" cy="1098.12" r="4.8"/>
<circle cx="1725.8" cy="1100.46" r="4.8"/>
<circle cx="1752.45" cy="1101.46" r="4.8"/>
<circle cx="1739.12" cy="1103.79" r="4.8"/>
<circle cx="1699.14" cy="1105.79" r="4.8"/>
<circle cx="1779.1" cy="1105.79" r="4.8"/>
<circle cx="1712.47" cy="1108.79" r="4.8"/>
<circle cx="1725.8" cy="1113.12" r="4.8"/>
<circle cx="1765.78" cy="1113.12" r="4.8"/>
<circle cx="1752.45" cy="1114.78" r="4.8"/>
<circle cx="1739.12" cy="1117.11" r="4.8"/>
<circle cx="1752.45" cy="1124.11" r="4.8"/>
<circle cx="1725.8" cy="1133.11" r="4.8"/>
<circle cx="1739.12" cy="1135.44" r="4.8"/>
<circle cx="1712.47" cy="1141.44" r="4.8"/>
<circle cx="1779.1" cy="1141.44" r="4.8"/>
<circle cx="1725.8" cy="1146.43" r="4.8"/>
<circle cx="1765.78" cy="1146.43" r="4.8"/>
<circle cx="1752.45" cy="1148.77" r="4.8"/>
<circle cx="1739.12" cy="1152.43" r="4.8"/>
<circle cx="1739.12" cy="1170.42" r="4.8"/>
<circle cx="1739.12" cy="1201.41" r="4.8"/>
</g>
<g fill="#f5444c">
<rect x="1889.38" y="872.57" width="10" height="10"/>
<rect x="1889.38" y="890.89" width="10" height="10"/>
<rect x="1902.71" y="919.88" width="10" height="10"/>
<rect x="1889.38" y="923.54" width="10" height="10"/>
<rect x="1876.05" y="952.19" width="10" height="10"/>
<rect x="1889.38" y="954.86" width="10" height="10"/>
<rect x="1902.71" y="970.52" width="10" height="10"/>
<rect x="1889.38" y="981.51" width="10" height="10"/>
<rect x="1902.71" y="992.51" width="10" height="10"/>
<rect x="1876.05" y="1003.17" width="10" height="10"/>
<rect x="1889.38" y="1003.17" width="10" height="10"/>
<rect x="1929.36" y="1005.83" width="10" height="10"/>
<rect x="1862.73" y="1009.83" width="10" height="10"/>
<rect x="1876.05" y="1009.83" width="10" height="10"/>
<rect x="1916.03" y="1012.16" width="10" height="10"/>
<rect x="1902.71" y="1014.83" width="10" height="10"/>
<rect x="1889.38" y="1018.16" width="10" height="10"/>
<rect x="1876.05" y="1023.16" width="10" height="10"/>
<rect x="1902.71" y="1024.83" width="10" height="10"/>
<rect x="1889.38" y="1029.82" width="10" height="10"/>
<rect x="1862.73" y="1039.15" width="10" height="10"/>
<rect x="1916.03" y="1039.15" width="10" height="10"/>
<rect x="1876.05" y="1036.49" width="10" height="10"/>
<rect x="1902.71" y="1036.49" width="10" height="10"/>
<rect x="1889.38" y="1048.15" width="10" height="10"/>
<rect x="1902.71" y="1059.81" width="10" height="10"/>
<rect x="1876.05" y="1064.81" width="10" height="10"/>
<rect x="1889.38" y="1064.81" width="10" height="10"/>
<rect x="1876.05" y="1071.47" width="10" height="10"/>
<rect x="1902.71" y="1079.13" width="10" height="10"/>
<rect x="1889.38" y="1083.13" width="10" height="10"/>
<rect x="1862.73" y="1092.12" width="10" height="10"/>
<rect x="1876.05" y="1098.79" width="10" height="10"/>
<rect x="1889.38" y="1098.79" width="10" height="10"/>
<rect x="1902.71" y="1096.46" width="10" height="10"/>
<rect x="1889.38" y="1114.78" width="10" height="10"/>
<rect x="1889.38" y="1144.1" width="10" height="10"/>
<rect x="1889.38" y="1156.43" width="10" height="10"/>
</g>
<g stroke="#000" fill="none">
<line x1="1687.15" y1="1056.48" x2="1792.1" y2="1056.48" stroke-width="4.4"/>
<line x1="1713.8" y1="1050.48" x2="1763.78" y2="1050.48" stroke-width="1.7"/>
<line x1="1713.8" y1="1063.47" x2="1763.78" y2="1063.47" stroke-width="1.7"/>
<line x1="1739.12" y1="1050.48" x2="1739.12" y2="1063.47" stroke-width="1.7"/>
<line x1="1842.74" y1="1032.16" x2="1946.02" y2="1032.16" stroke-width="4.4"/>
<line x1="1868.73" y1="1022.16" x2="1919.7" y2="1022.16" stroke-width="1.7"/>
<line x1="1868.73" y1="1044.15" x2="1919.7" y2="1044.15" stroke-width="1.7"/>
<line x1="1894.38" y1="1022.16" x2="1894.38" y2="1044.15" stroke-width="1.7"/>
<line x1="1662.5" y1="772.45" x2="1662.5" y2="1221.75" stroke-width="4.5"/>
<line x1="1651.5" y1="1219.5" x2="1972" y2="1219.5" stroke-width="4.5"/>
<line x1="1651.5" y1="774.7" x2="1662.5" y2="774.7" stroke-width="4.4"/>
<line x1="1651.5" y1="863.3" x2="1662.5" y2="863.3" stroke-width="4.4"/>
<line x1="1651.5" y1="951.9" x2="1662.5" y2="951.9" stroke-width="4.4"/>
<line x1="1651.5" y1="1040.7" x2="1662.5" y2="1040.7" stroke-width="4.4"/>
<line x1="1651.5" y1="1129.7" x2="1662.5" y2="1129.7" stroke-width="4.4"/>
<line x1="1651.5" y1="1219.5" x2="1662.5" y2="1219.5" stroke-width="4.4"/>
<line x1="1737.8" y1="1219.5" x2="1737.8" y2="1229.7" stroke-width="4.4"/>
<line x1="1892.7" y1="1219.5" x2="1892.7" y2="1229.7" stroke-width="4.4"/>
</g>
<text transform="translate(1648.3 790.05) scale(1 1.055)" font-size="32" text-anchor="end">500</text>
<text transform="translate(1648.3 874.2) scale(1 1.055)" font-size="32" text-anchor="end">400</text>
<text transform="translate(1648.3 963.8) scale(1 1.055)" font-size="32" text-anchor="end">300</text>
<text transform="translate(1647.7 1054.2) scale(1 1.055)" font-size="32" text-anchor="end">200</text>
<text transform="translate(1650.55 1139.8) scale(1 1.055)" font-size="32" text-anchor="end">100</text>
<text transform="translate(1648.3 1227.05) scale(1 1.055)" font-size="32" text-anchor="end">0</text>
<text transform="translate(1742 1261.9) scale(1 1.055)" font-size="32" text-anchor="middle">NS</text>
<text transform="translate(1895.4 1261.9) scale(1 1.055)" font-size="32" text-anchor="middle">S</text>
<text transform="translate(1891.5 855.8)" font-size="36" text-anchor="middle">*</text>
</g>
<g>
<text transform="translate(-3.2 1406.8) scale(1 1.04)" font-size="49" font-weight="700">I</text>
<text transform="translate(68.3 1630) rotate(-90) scale(1 1.055)" font-size="38" text-anchor="middle">mRNA fold change</text>
<g stroke="#000" stroke-width="2.6">
<line x1="231.9" y1="1536.5" x2="231.9" y2="1574.9" stroke-width="2.6"/>
<line x1="222.3" y1="1536.5" x2="241.5" y2="1536.5" stroke-width="2.6"/>
<line x1="291.9" y1="1636.8" x2="291.9" y2="1652.2" stroke-width="2.6"/>
<line x1="282.3" y1="1636.8" x2="301.5" y2="1636.8" stroke-width="2.6"/>
<line x1="451.9" y1="1644.2" x2="451.9" y2="1673.7" stroke-width="2.6"/>
<line x1="442.3" y1="1644.2" x2="461.5" y2="1644.2" stroke-width="2.6"/>
<line x1="511.9" y1="1710.8" x2="511.9" y2="1726.5" stroke-width="2.6"/>
<line x1="502.3" y1="1710.8" x2="521.5" y2="1710.8" stroke-width="2.6"/>
<line x1="671.9" y1="1497.9" x2="671.9" y2="1522.2" stroke-width="2.6"/>
<line x1="662.3" y1="1497.9" x2="681.5" y2="1497.9" stroke-width="2.6"/>
<line x1="731.9" y1="1619.8" x2="731.9" y2="1630.5" stroke-width="2.6"/>
<line x1="722.3" y1="1619.8" x2="741.5" y2="1619.8" stroke-width="2.6"/>
<rect x="153.2" y="1769.1" width="37.4" height="91.8" fill="#0000ff"/>
<rect x="213.2" y="1574.9" width="37.4" height="286" fill="#ff0000"/>
<rect x="273.2" y="1652.2" width="37.4" height="208.7" fill="#ff8080"/>
<rect x="373.2" y="1769.1" width="37.4" height="91.8" fill="#0000ff"/>
<rect x="433.2" y="1673.7" width="37.4" height="187.2" fill="#ff0000"/>
<rect x="493.2" y="1726.5" width="37.4" height="134.4" fill="#ff8080"/>
<rect x="593.2" y="1769.1" width="37.4" height="91.8" fill="#0000ff"/>
<rect x="653.2" y="1522.2" width="37.4" height="338.7" fill="#ff0000"/>
<rect x="713.2" y="1630.5" width="37.4" height="230.4" fill="#ff8080"/>
<rect x="783.3" y="1417.55" width="47.2" height="15" fill="#0000ff"/>
<rect x="783.3" y="1472.55" width="47.2" height="15" fill="#ff0000"/>
<rect x="783.3" y="1527.55" width="47.2" height="15" fill="#ff8080"/>
</g>
<g stroke="#000" fill="none">
<line x1="131.4" y1="1396.2" x2="131.4" y2="1862.2" stroke-width="2.6"/>
<line x1="113.1" y1="1860.9" x2="772.5" y2="1860.9" stroke-width="2.6"/>
<line x1="113.1" y1="1397.5" x2="131.4" y2="1397.5" stroke-width="2.6"/>
<line x1="113.1" y1="1490.1" x2="131.4" y2="1490.1" stroke-width="2.6"/>
<line x1="113.1" y1="1582.5" x2="131.4" y2="1582.5" stroke-width="2.6"/>
<line x1="113.1" y1="1675.4" x2="131.4" y2="1675.4" stroke-width="2.6"/>
<line x1="113.1" y1="1768.25" x2="131.4" y2="1768.25" stroke-width="2.6"/>
<line x1="113.1" y1="1860.9" x2="131.4" y2="1860.9" stroke-width="2.6"/>
<line x1="230.9" y1="1860.9" x2="230.9" y2="1879.6" stroke-width="2.6"/>
<line x1="450.9" y1="1860.9" x2="450.9" y2="1879.6" stroke-width="2.6"/>
<line x1="670.9" y1="1860.9" x2="670.9" y2="1879.6" stroke-width="2.6"/>
</g>
<text transform="translate(107.9 1408.55) scale(1 1.055)" font-size="33.3" text-anchor="end">5</text>
<text transform="translate(107.9 1501.3) scale(1 1.055)" font-size="33.3" text-anchor="end">4</text>
<text transform="translate(107.9 1594.2) scale(1 1.055)" font-size="33.3" text-anchor="end">3</text>
<text transform="translate(107.9 1687.2) scale(1 1.055)" font-size="33.3" text-anchor="end">2</text>
<text transform="translate(107.9 1779.55) scale(1 1.055)" font-size="33.3" text-anchor="end">1</text>
<text transform="translate(107.9 1872.05) scale(1 1.055)" font-size="33.3" text-anchor="end">0</text>
<text transform="translate(231.5 1913.8) scale(1 1.055)" font-size="33.3" text-anchor="middle">RelA</text>
<text transform="translate(451.4 1913.8) scale(1 1.055)" font-size="33.3" text-anchor="middle">Bax</text>
<text transform="translate(671.2 1913.8) scale(1 1.055)" font-size="33.3" text-anchor="middle">Eaat3</text>
<text transform="translate(229.6 1525.1)" font-size="36" text-anchor="middle">*</text>
<text transform="translate(292.2 1630.6)" font-size="36" text-anchor="middle">*</text>
<text transform="translate(448.8 1641.1)" font-size="36" text-anchor="middle">*</text>
<text transform="translate(509.7 1707.3)" font-size="36" text-anchor="middle">*</text>
<text transform="translate(672.1 1492.7)" font-size="36" text-anchor="middle" letter-spacing="1.8">**</text>
<text transform="translate(728.5 1614.3)" font-size="36" text-anchor="middle">*</text>
<text transform="translate(859 1436) scale(1 1.055)" font-size="32">Con</text>
<text transform="translate(859 1491) scale(1 1.055)" font-size="32">CSE</text>
<text transform="translate(859 1547) scale(1 1.055)" font-size="32">NNK</text>
</g>
<g>
<text transform="translate(1010 1407) scale(1 1.05)" font-size="49" font-weight="700">J</text>
<text transform="translate(1100.7 1630) rotate(-90) scale(1 1.055)" font-size="38" text-anchor="middle">mRNA fold change</text>
<g stroke="#000" stroke-width="2.6">
<line x1="1266.2" y1="1579.9" x2="1266.2" y2="1604.9" stroke-width="2.6"/>
<line x1="1256.6" y1="1579.9" x2="1275.8" y2="1579.9" stroke-width="2.6"/>
<line x1="1326.2" y1="1505.9" x2="1326.2" y2="1537.6" stroke-width="2.6"/>
<line x1="1316.6" y1="1505.9" x2="1335.8" y2="1505.9" stroke-width="2.6"/>
<line x1="1486.2" y1="1468.6" x2="1486.2" y2="1501.6" stroke-width="2.6"/>
<line x1="1476.6" y1="1468.6" x2="1495.8" y2="1468.6" stroke-width="2.6"/>
<line x1="1546.2" y1="1610.8" x2="1546.2" y2="1635.9" stroke-width="2.6"/>
<line x1="1536.6" y1="1610.8" x2="1555.8" y2="1610.8" stroke-width="2.6"/>
<line x1="1706.2" y1="1536.2" x2="1706.2" y2="1568.2" stroke-width="2.6"/>
<line x1="1696.6" y1="1536.2" x2="1715.8" y2="1536.2" stroke-width="2.6"/>
<line x1="1766.2" y1="1487.6" x2="1766.2" y2="1512.3" stroke-width="2.6"/>
<line x1="1756.6" y1="1487.6" x2="1775.8" y2="1487.6" stroke-width="2.6"/>
<rect x="1187.5" y="1707.2" width="37.4" height="153.4" fill="#0000ff"/>
<rect x="1247.5" y="1604.9" width="37.4" height="255.7" fill="#ff0000"/>
<rect x="1307.5" y="1537.6" width="37.4" height="323" fill="#ff8080"/>
<rect x="1407.5" y="1707.2" width="37.4" height="153.4" fill="#0000ff"/>
<rect x="1467.5" y="1501.6" width="37.4" height="359" fill="#ff0000"/>
<rect x="1527.5" y="1635.9" width="37.4" height="224.7" fill="#ff8080"/>
<rect x="1627.5" y="1707.2" width="37.4" height="153.4" fill="#0000ff"/>
<rect x="1687.5" y="1568.2" width="37.4" height="292.4" fill="#ff0000"/>
<rect x="1747.5" y="1512.3" width="37.4" height="348.3" fill="#ff8080"/>
<rect x="1816.3" y="1417.9" width="46.2" height="13.6" fill="#0000ff"/>
<rect x="1816.3" y="1480.9" width="46.2" height="13.6" fill="#ff0000"/>
<rect x="1816.3" y="1543.8" width="46.2" height="13.6" fill="#ff8080"/>
</g>
<g stroke="#000" fill="none">
<line x1="1166.4" y1="1396" x2="1166.4" y2="1861.9" stroke-width="2.6"/>
<line x1="1147.6" y1="1860.6" x2="1807" y2="1860.6" stroke-width="2.6"/>
<line x1="1147.6" y1="1397.3" x2="1166.4" y2="1397.3" stroke-width="2.6"/>
<line x1="1147.6" y1="1551.7" x2="1166.4" y2="1551.7" stroke-width="2.6"/>
<line x1="1147.6" y1="1706.2" x2="1166.4" y2="1706.2" stroke-width="2.6"/>
<line x1="1147.6" y1="1860.6" x2="1166.4" y2="1860.6" stroke-width="2.6"/>
<line x1="1265.5" y1="1860.6" x2="1265.5" y2="1879.3" stroke-width="2.6"/>
<line x1="1485.5" y1="1860.6" x2="1485.5" y2="1879.3" stroke-width="2.6"/>
<line x1="1705.5" y1="1860.6" x2="1705.5" y2="1879.3" stroke-width="2.6"/>
</g>
<text transform="translate(1142.3 1408.1) scale(1 1.055)" font-size="33.3" text-anchor="end">3</text>
<text transform="translate(1142.3 1562.5) scale(1 1.055)" font-size="33.3" text-anchor="end">2</text>
<text transform="translate(1142.3 1716.55) scale(1 1.055)" font-size="33.3" text-anchor="end">1</text>
<text transform="translate(1142.3 1871.55) scale(1 1.055)" font-size="33.3" text-anchor="end">0</text>
<text transform="translate(1266.9 1913.4) scale(1 1.055)" font-size="33.3" text-anchor="middle">RELA</text>
<text transform="translate(1486 1913.4) scale(1 1.055)" font-size="33.3" text-anchor="middle">BAX</text>
<text transform="translate(1706 1913.4) scale(1 1.055)" font-size="33.3" text-anchor="middle">EAAT3</text>
<text transform="translate(1267.5 1576)" font-size="36" text-anchor="middle">*</text>
<text transform="translate(1325.5 1502.4)" font-size="36" text-anchor="middle">*</text>
<text transform="translate(1485.4 1462.4)" font-size="36" text-anchor="middle">*</text>
<text transform="translate(1546.4 1604)" font-size="36" text-anchor="middle">*</text>
<text transform="translate(1703.8 1528.4)" font-size="36" text-anchor="middle">*</text>
<text transform="translate(1763.8 1478.4)" font-size="36" text-anchor="middle">*</text>
<text transform="translate(1891 1434.9) scale(1 1.055)" font-size="32">Con</text>
<text transform="translate(1891 1497.9) scale(1 1.055)" font-size="32">CSE</text>
<text transform="translate(1891 1560.9) scale(1 1.055)" font-size="32">NNK</text>
</g>
</svg></body></html>
